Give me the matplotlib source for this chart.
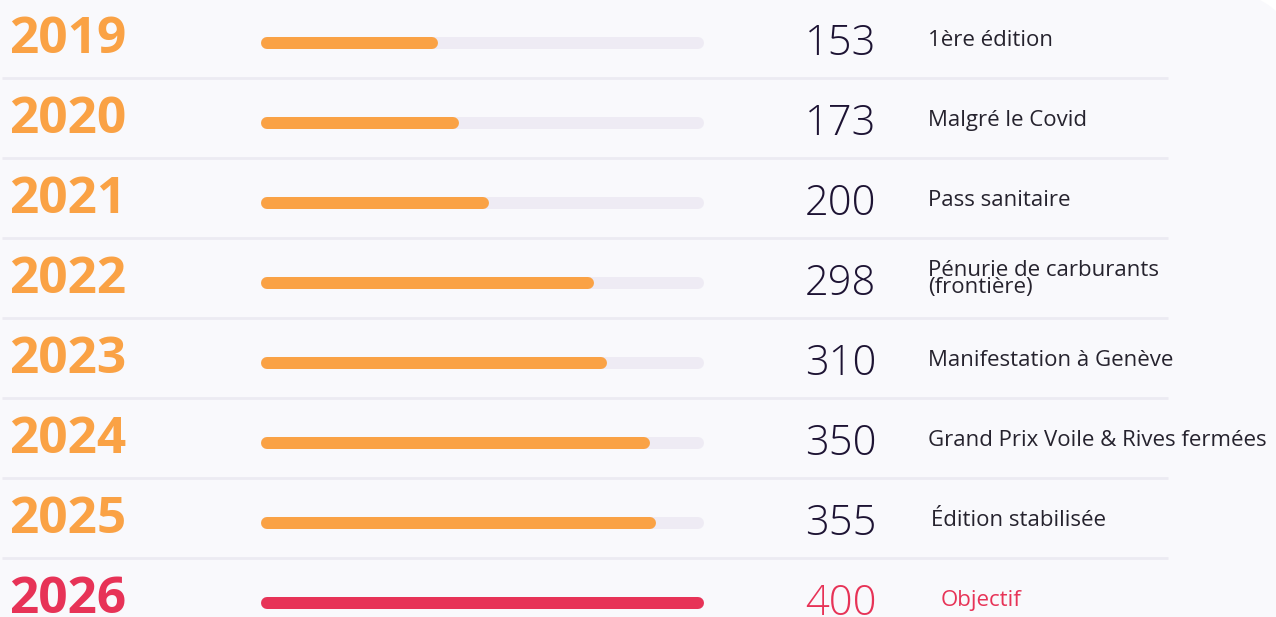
import matplotlib.pyplot as plt
from matplotlib.patches import FancyBboxPatch

# data
years = ["2019", "2020", "2021", "2022", "2023", "2024", "2025", "2026"]
participants = [153, 173, 200, 298, 310, 350, 355, 400]
notes = ["1ère édition", "Malgré le Covid", "Pass sanitaire",
         "Pénurie de carburants\n(frontière)", "Manifestation à Genève",
         "Grand Prix Voile & Rives fermées", "Édition stabilisée", "Objectif"]
target = 400

ORANGE = "#faa245"
RED = "#e73357"
TRACK = "#eeebf4"
SEP = "#ecebf2"
PANEL = "#f9f9fc"
NUM_COL = "#1d1333"
TXT_COL = "#26232e"

W, H = 1276, 617
ROW = 80

fig = plt.figure(figsize=(W / 100, H / 100), dpi=100)
fig.patch.set_facecolor("white")

# full-figure axes in pixel coords for the panel, separators and text
ax = fig.add_axes([0, 0, 1, 1])
ax.set_xlim(0, W)
ax.set_ylim(H, 0)
ax.axis("off")
ax.add_patch(FancyBboxPatch((-100, -10), 1400, 800,
                            boxstyle="round,pad=0,rounding_size=90",
                            facecolor=PANEL, edgecolor="none", zorder=0))

for i in range(len(years) - 1):
    y = 78 + ROW * i
    ax.plot([2, 1168], [y, y], color=SEP, lw=2, zorder=1, solid_capstyle="butt")

note_x = [928, 928, 928, 928, 928, 928, 931, 941]
for i, (yr, val, note) in enumerate(zip(years, participants, notes)):
    col = RED if yr == "2026" else ORANGE
    ax.text(9, 53 + ROW * i, yr, color=col, fontsize=37, fontweight="bold",
            family="Open Sans", va="baseline", ha="left")
    ax.text(805, 55 + ROW * i, str(val), color=RED if yr == "2026" else NUM_COL,
            fontsize=30, fontweight="light", family="Open Sans",
            va="baseline", ha="left")
    if "\n" in note:
        ax.text(note_x[i], 279, note, color=TXT_COL, fontsize=16,
                family="Open Sans", va="center", ha="left", linespacing=0.8)
    else:
        ax.text(note_x[i], 46 + ROW * i, note, color=RED if yr == "2026" else TXT_COL,
                fontsize=16, family="Open Sans", va="baseline", ha="left")

# progress bars: value axis 0..target
bx0, bx1 = 267, 698
bax = fig.add_axes([bx0 / W, 0, (bx1 - bx0) / W, 1])
bax.set_xlim(0, target)
bax.set_ylim((H - 43) / ROW, -43 / ROW)
bax.axis("off")
bax.patch.set_alpha(0)
lw = 12 * 72 / 100
for i, (yr, val) in enumerate(zip(years, participants)):
    col = RED if yr == "2026" else ORANGE
    bax.plot([0, target], [i, i], color=TRACK, lw=lw, solid_capstyle="round",
             zorder=1, clip_on=False)
    bax.plot([0, val], [i, i], color=col, lw=lw, solid_capstyle="round",
             zorder=2, clip_on=False)

fig.savefig("out.png", dpi=100, facecolor=fig.get_facecolor())
